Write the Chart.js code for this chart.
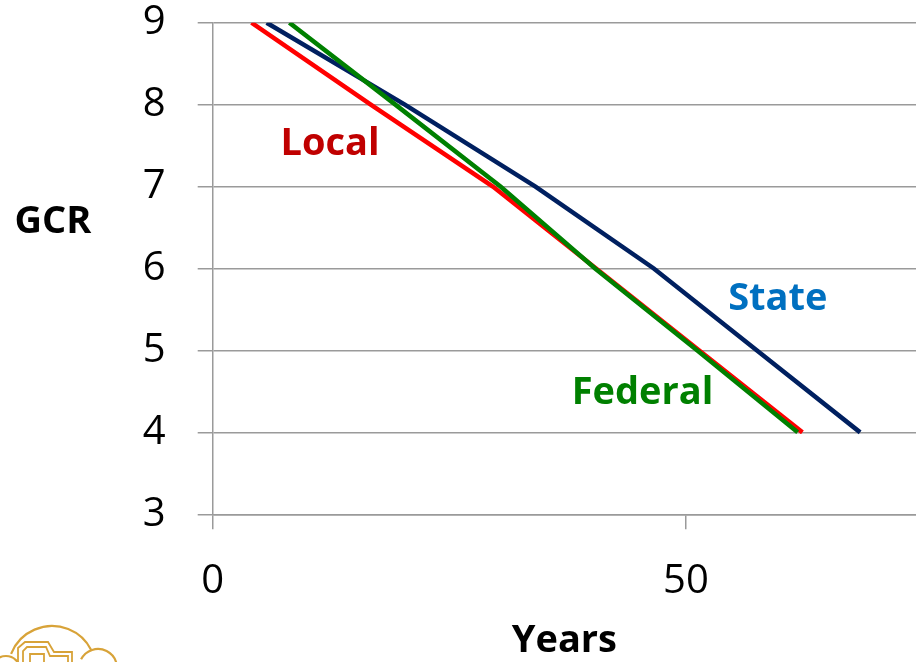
<!DOCTYPE html>
<html><head><meta charset="utf-8">
<script src="https://cdn.jsdelivr.net/npm/chart.js@4/dist/chart.umd.min.js"></script>
<style>html,body{margin:0;padding:0;background:#fff;overflow:hidden}#wrap{position:relative;width:916px;height:662px}</style>
</head><body><div id="wrap"><canvas id="c" width="916" height="662"></canvas></div>
<script>
// ---- data ----
const seriesNames = ['Federal', 'State', 'Local'];
const gcrLevels = [9, 8, 7, 6, 5, 4];
const federalYears = [8.1, 19.3, 30.4, 40.4, 51.2, 61.8];
const stateYears = [5.7, 20.3, 34.1, 46.6, 57.5, 68.4];
const localYears = [4.1, 16.7, 29.6, 40.5, 51.4, 62.3];
const xTickValues = [0, 50];
const yTickValues = [3, 4, 5, 6, 7, 8, 9];
const xTitle = 'Years';
const yTitle = 'GCR';

// ---- styling ----
const seriesColors = ['#008000', '#002060', '#FF0000'];
const labelColors = ['#008000', '#0070C0', '#C00000'];
const labelPos = [[45.4, 4.48], [59.7, 5.62], [12.4, 7.52]];
const FONT = '"Open Sans", "Noto Sans", sans-serif';
const GRID = '#9a9a9a';

const seriesYears = [federalYears, stateYears, localYears];
const datasets = seriesNames.map((name, i) => ({
  label: name,
  data: seriesYears[i].map((x, j) => ({ x: x, y: gcrLevels[j] })),
  borderColor: seriesColors[i],
  backgroundColor: seriesColors[i],
  borderWidth: 4.5,
  pointRadius: 0,
  showLine: true,
  tension: 0,
  fill: false
}));

const decorPlugin = {
  id: 'decor',
  afterDraw(chart) {
    const ctx = chart.ctx;
    const xs = chart.scales.x, ys = chart.scales.y;
    ctx.save();
    ctx.textAlign = 'center';
    ctx.textBaseline = 'middle';
    ctx.font = 'bold 38px ' + FONT;
    seriesNames.forEach((name, i) => {
      ctx.fillStyle = labelColors[i];
      ctx.fillText(name, xs.getPixelForValue(labelPos[i][0]), ys.getPixelForValue(labelPos[i][1]));
    });
    ctx.fillStyle = '#000';
    ctx.fillText(yTitle, 53, 222);
    // logo (decorative outline, partly cut off)
    ctx.strokeStyle = '#D8A339';
    ctx.lineWidth = 2.2;
    ctx.beginPath();
    ctx.arc(52, 670, 44, Math.PI * 1.12, Math.PI * 1.85);
    ctx.stroke();
    ctx.beginPath();
    ctx.arc(98, 668, 19, Math.PI * 1.15, Math.PI * 1.95);
    ctx.stroke();
    ctx.beginPath();
    ctx.arc(6, 670, 14, Math.PI * 1.25, Math.PI * 1.9);
    ctx.stroke();
    ctx.lineWidth = 1.8;
    ctx.beginPath();
    ctx.moveTo(18, 662); ctx.lineTo(18, 648); ctx.lineTo(25, 642); ctx.lineTo(48, 642); ctx.lineTo(54, 652); ctx.lineTo(72, 652); ctx.lineTo(72, 662);
    ctx.moveTo(23, 662); ctx.lineTo(23, 651); ctx.lineTo(27, 647); ctx.lineTo(46, 647); ctx.lineTo(50, 656); ctx.lineTo(68, 656); ctx.lineTo(68, 662);
    ctx.moveTo(30, 662); ctx.lineTo(30, 654); ctx.lineTo(44, 654); ctx.lineTo(44, 662);
    ctx.stroke();
    ctx.restore();
  }
};

new Chart(document.getElementById('c'), {
  type: 'scatter',
  data: { datasets },
  plugins: [decorPlugin],
  options: {
    responsive: false,
    animation: false,
    devicePixelRatio: 1,
    layout: { padding: { top: 22.7, right: 0, bottom: 0, left: 0 } },
    plugins: { legend: { display: false }, tooltip: { enabled: false } },
    scales: {
      x: {
        type: 'linear',
        min: 0,
        max: 74.3,
        afterBuildTicks: s => { s.ticks = xTickValues.map(v => ({ value: v })); },
        afterFit: s => { s.height = 147.7; s.paddingLeft = 0; s.paddingRight = 0; },
        grid: { drawOnChartArea: false, drawTicks: true, tickLength: 15, color: GRID, lineWidth: 1.5 },
        border: { display: true, color: GRID, width: 1.5 },
        ticks: { font: { family: FONT, size: 40 }, color: '#000', padding: 28, maxRotation: 0, autoSkip: false },
        title: { display: true, text: xTitle, font: { family: FONT, size: 38, weight: 'bold' }, color: '#000', padding: { top: 0, bottom: -2 } }
      },
      y: {
        min: 3,
        max: 9,
        afterBuildTicks: s => { s.ticks = yTickValues.map(v => ({ value: v })); },
        afterFit: s => { s.width = 212.7; s.paddingTop = 0; s.paddingBottom = 0; },
        grid: { drawTicks: true, tickLength: 15, color: GRID, lineWidth: 1.5 },
        border: { display: true, color: GRID, width: 1.5 },
        ticks: { font: { family: FONT, size: 40 }, color: '#000', padding: 32 }
      }
    }
  }
});
</script></body></html>
